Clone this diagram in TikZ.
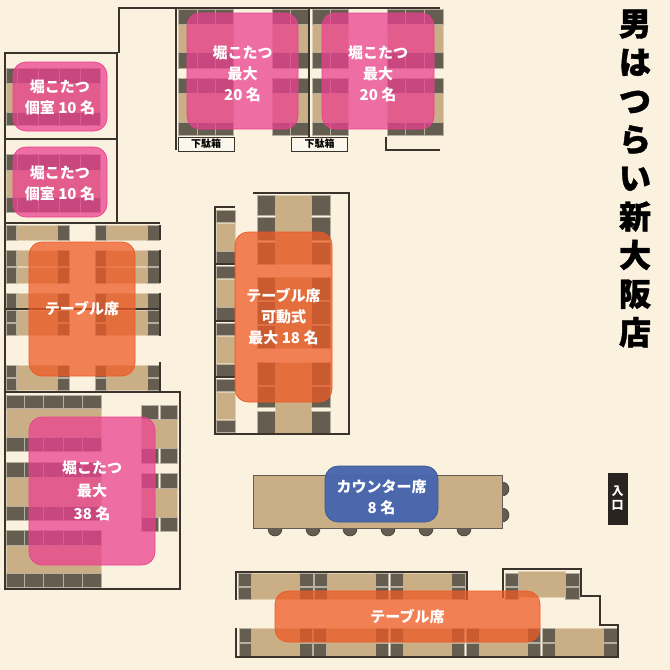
\documentclass[tikz,border=0pt]{standalone}
\usepackage{fontspec}
\setmainfont{Noto Sans CJK JP}
\definecolor{paper}{HTML}{FAF2DF}
\definecolor{wallcol}{HTML}{3B342D}
\definecolor{chaircol}{HTML}{665D51}
\definecolor{deskcol}{HTML}{C9AE86}
\definecolor{pinkcol}{HTML}{EB408F}
\definecolor{orangecol}{HTML}{EE5A24}
\definecolor{bluecol}{HTML}{4766AE}
\begin{document}
\begin{tikzpicture}[x=1pt, y=-1pt,
	wall/.style = {draw=wallcol, line width=1.4pt},
	chair/.style = {fill=chaircol, draw=chaircol!45!paper, line width=0.4pt},
	desk/.style = {fill=deskcol, draw=deskcol!50!paper, line width=0.3pt},
	stool/.style = {circle, fill=chaircol, draw=wallcol, line width=0.5pt, minimum size=14pt, inner sep=0pt},
	shoebox/.style = {draw=wallcol, fill=paper!60!white, line width=0.7pt, minimum width=56pt, minimum height=14pt, inner sep=0pt, font=\fontsize{10}{11}\selectfont\bfseries, text=black},
	zone/.style = {rounded corners=13pt, fill opacity=0.74, text opacity=1, text=white, align=center, inner sep=0pt, line width=0.7pt, font=\fontsize{15}{21}\selectfont\bfseries},
	zonelabel/.style = {text=white, align=center, inner sep=0pt, font=\fontsize{15}{21}\selectfont\bfseries},
	pinkzone/.style = {zone, fill=pinkcol, draw=pinkcol},
	orangezone/.style = {zone, fill=orangecol, draw=orangecol},
	bluezone/.style = {zone, fill=bluecol, draw=bluecol!85!black, fill opacity=0.96}]
	\useasboundingbox (0,0) rectangle (670,670);
	\fill[paper] (0,0) rectangle (670,670);

	\foreach \xa/\ya/\xb/\yb in {
		6/83/100/112, 6/170/100/197,
		178/24/233/52, 272/24/308/52, 178/93/233/122, 272/93/308/122,
		312/24/348/52, 387/24/443/52, 312/93/348/122, 387/93/443/122,
		16/225/57/240, 106/225/147/240, 16/250/57/266, 16/267/57/283, 106/250/147/266, 106/267/147/283,
		16/293/57/309, 16/310/57/335, 106/293/147/309, 106/310/147/335, 16/365/57/390, 106/365/147/390,
		6/408/101/437, 6/477/101/506, 6/545/101/573, 141/419/177/448, 141/488/177/517,
		216/223/235/251, 216/279/235/307, 216/336/235/363, 216/392/235/419, 275/195/311/264, 275/277/311/348, 275/362/311/433,
		251/573/299/599, 327/573/375/599, 403/573/451/599, 518/571/565/597,
		251/628/299/656, 326/628/375/656, 403/628/451/656, 479/628/527/656, 555/628/603/656}
		\draw[desk] (\xa,\ya) rectangle (\xb,\yb);

	\foreach \ya/\yb in {68/83, 112/125, 154/170, 197/212}
		\foreach \xa/\xb in {6/17, 17/38, 38/59, 59/80, 80/100}
			\draw[chair] (\xa,\ya) rectangle (\xb,\yb);

	\foreach \ya/\yb in {9/24, 52/68, 78/93, 122/135}
		\foreach \xa/\xb in {178/197, 197/215, 215/233, 272/290, 290/308, 312/330, 330/348, 387/405, 405/424, 424/443}
			\draw[chair] (\xa,\ya) rectangle (\xb,\yb);

	\foreach \ya/\yb in {225/240, 250/266, 267/283, 293/309, 310/322, 323/335, 365/377, 378/390}
		\foreach \xa/\xb in {6/16, 57/69, 95/106, 147/159}
			\draw[chair] (\xa,\ya) rectangle (\xb,\yb);

	\foreach \ya/\yb in {395/408, 437/451, 462/477, 506/520, 530/545, 573/587}
		\foreach \xa/\xb in {6/24, 24/43, 43/63, 63/82, 82/101}
			\draw[chair] (\xa,\ya) rectangle (\xb,\yb);

	\foreach \ya/\yb in {405/419, 448/463, 473/488, 517/531}
		\foreach \xa/\xb in {141/158, 160/177}
			\draw[chair] (\xa,\ya) rectangle (\xb,\yb);

	\foreach \ya/\yb in {210/222, 251/263, 266/278, 307/320, 323/335, 364/376, 379/391, 420/432}
		\draw[chair] (216,\ya) rectangle (235,\yb);

	\foreach \ya/\yb in {195/215, 217/240, 242/264, 277/300, 301/324, 325/348, 362/385, 386/407, 411/433}
		\foreach \xa/\xb in {257/275, 311/330}
			\draw[chair] (\xa,\ya) rectangle (\xb,\yb);

	\foreach \xa/\xb in {238/251, 299/313, 314/327, 375/388, 390/403, 451/465, 505/518, 565/579}
		\foreach \ya/\yb in {573/586, 587/599}
			\draw[chair] (\xa,\ya) rectangle (\xb,\yb);

	\foreach \xa/\xb in {239/251, 299/312, 313/326, 375/388, 390/403, 451/464, 466/479, 527/540, 542/555, 603/617}
		\foreach \ya/\yb in {628/642, 643/656}
			\draw[chair] (\xa,\ya) rectangle (\xb,\yb);

	\foreach \sx/\sy [count=\i] in {275/529, 313/529, 350/529, 388/529, 426/529, 464/529, 502/489, 502/515}
		\node[stool] (stool\i) at (\sx,\sy) {};
	\draw[fill=deskcol, draw=wallcol!80, line width=0.7pt] (253,475) rectangle (502,528);

	\draw[wall] (5,222) -- (5,53) -- (117,53) -- (117,222);
	\draw[wall] (5,139) -- (117,139);
	\draw[wall] (119,53) -- (119,8) -- (440,8);
	\draw[wall] (176,8) -- (176,150);
	\draw[wall] (309,8) -- (309,150);
	\draw[wall] (386,137) -- (386,150) -- (440,150);
	\draw[wall] (5,589) -- (5,223) -- (160,223);
	\draw[wall] (160,225) -- (160,240);
	\draw[wall] (160,250) -- (160,283);
	\draw[wall] (160,293) -- (160,336);
	\draw[wall] (160,362) -- (160,392);
	\draw[wall, line width=2pt] (5,309) -- (160,309);
	\draw[wall] (5,392) rectangle (180,589);
	\draw[wall] (235,207) -- (215,207) -- (215,434) -- (349,434) -- (349,193) -- (253,193);
	\draw[wall] (215,264) -- (235,264);
	\draw[wall] (215,321) -- (235,321);
	\draw[wall] (215,377) -- (235,377);
	\draw[wall] (236,600) -- (236,572) -- (467,572) -- (467,600);
	\draw[wall] (503,598) -- (503,569) -- (581,569) -- (581,596) -- (600,596) -- (600,625) -- (618,625) -- (618,657) -- (236,657) -- (236,628);

	\node[shoebox] (shoe1) at (206,144) {下駄箱};
	\node[shoebox] (shoe2) at (319.5,144) {下駄箱};

	\node[pinkzone, minimum width=94pt, minimum height=69pt] (room1) at (60,96.5) {};
	\node[pinkzone, minimum width=94pt, minimum height=70pt] (room2) at (60,182) {};
	\node[pinkzone, minimum width=111pt, minimum height=116pt] (room3) at (242.5,71) {};
	\node[pinkzone, minimum width=112pt, minimum height=116pt] (room4) at (378,71) {};
	\node[pinkzone, minimum width=126pt, minimum height=148pt, font=\fontsize{15}{23}\selectfont\bfseries] (room5) at (92,491) {堀こたつ\\最大\\38 名};
	\node[orangezone, minimum width=106pt, minimum height=134pt] (tables1) at (82,309) {テーブル席};
	\node[orangezone, minimum width=97pt, minimum height=170pt] (tables2) at (283.5,317) {テーブル席\\可動式\\最大 18 名};
	\node[orangezone, minimum width=265pt, minimum height=51pt] (tables3) at (407.5,616.5) {テーブル席};
	\node[bluezone, minimum width=113pt, minimum height=56pt] (counter) at (381.5,494) {};

	\node[zonelabel] (room1text) at (60,97.5) {堀こたつ\\個室 10 名};
	\node[zonelabel] (room2text) at (60,183) {堀こたつ\\個室 10 名};
	\node[zonelabel] (room3text) at (242.5,74) {堀こたつ\\最大\\20 名};
	\node[zonelabel] (room4text) at (378,74) {堀こたつ\\最大\\20 名};
	\node[zonelabel] (countertext) at (381.5,497.5) {カウンター席\\8 名};

	\node[align=center, font=\fontsize{32}{38.6}\selectfont\bfseries\addfontfeature{FakeBold=1.2}, text=black] (shopname) at (635,178.5) {男\\は\\つ\\ら\\い\\新\\大\\阪\\店};
	\node[fill=wallcol!70!black, text=white, align=center, minimum width=20pt, minimum height=52pt, inner sep=0pt, font=\fontsize{12}{14}\selectfont\bfseries] (entrance) at (617.5,498.5) {入\\口};
\end{tikzpicture}
\end{document}
